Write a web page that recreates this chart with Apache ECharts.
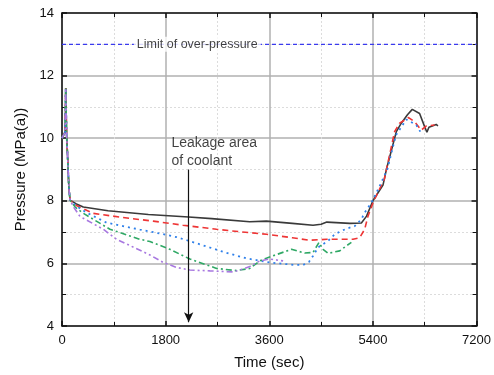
<!DOCTYPE html>
<html>
<head>
<meta charset="utf-8">
<script src="https://cdn.jsdelivr.net/npm/echarts@6/dist/echarts.min.js"></script>
<style>
  html, body { margin: 0; padding: 0; background: #fff; }
  #chart { width: 494px; height: 375px; }
</style>
</head>
<body>
<div id="chart"></div>
<script>
// Axis ranges and ticks
const xTicks = [0, 1800, 3600, 5400, 7200];
const yTicks = [4, 6, 8, 10, 12, 14];

// Shared start-up transient (time s, pressure MPa)
const startup = [[0, 10.0], [30, 10.05], [55, 10.2], [65, 11.6], [80, 10.1], [100, 9.3], [120, 8.4], [140, 8.02]];

// Pressure histories for each case
const caseBlack = [[250, 7.9], [370, 7.8], [800, 7.68], [1500, 7.56], [2200, 7.48], [2600, 7.43], [3260, 7.33], [3550, 7.35], [4000, 7.28], [4360, 7.22], [4500, 7.25], [4600, 7.32], [5000, 7.28], [5200, 7.29], [5290, 7.51], [5400, 8.0], [5575, 8.5], [5633, 8.99], [5807, 10.21], [5893, 10.48], [6000, 10.75], [6084, 10.92], [6211, 10.79], [6298, 10.37], [6338, 10.19], [6373, 10.35], [6500, 10.44], [6529, 10.39]];
const caseRed = [[250, 7.85], [543, 7.6], [1000, 7.48], [1584, 7.35], [2100, 7.22], [2684, 7.09], [3100, 7.01], [3551, 6.93], [4000, 6.82], [4303, 6.74], [4600, 6.77], [5055, 6.77], [5170, 6.82], [5257, 7.09], [5315, 7.51], [5402, 7.94], [5600, 8.7], [5777, 10.21], [5864, 10.48], [6020, 10.66], [6124, 10.53], [6240, 10.26], [6330, 10.39], [6472, 10.42]];
const caseBlue = [[250, 7.83], [428, 7.62], [775, 7.3], [1353, 7.08], [1527, 7.02], [1816, 6.91], [1990, 6.84], [2394, 6.61], [2799, 6.37], [3204, 6.16], [3609, 6.03], [4042, 5.95], [4187, 5.95], [4291, 6.05], [4360, 6.24], [4447, 6.51], [4621, 6.72], [4737, 6.93], [4939, 7.11], [5083, 7.19], [5200, 7.41], [5257, 7.62], [5373, 7.94], [5489, 8.36], [5650, 9.0], [5800, 10.1], [5980, 10.6], [6154, 10.42], [6223, 10.21]];
const caseGreen = [[230, 7.8], [370, 7.6], [833, 7.09], [1353, 6.77], [1527, 6.7], [1874, 6.45], [2221, 6.14], [2684, 5.84], [3031, 5.77], [3262, 5.84], [3435, 6.08], [3539, 6.16], [3985, 6.45], [4216, 6.33], [4360, 6.35], [4464, 6.67], [4534, 6.45], [4621, 6.32], [4823, 6.4], [4939, 6.56], [5026, 6.67]];
const casePurple = [[210, 7.78], [312, 7.5], [717, 7.09], [949, 6.77], [1527, 6.27], [1758, 6.03], [1990, 5.87], [2221, 5.79], [2568, 5.76], [2973, 5.73], [3146, 5.82], [3262, 5.9], [3435, 6.08], [3609, 6.14], [3840, 6.08]];

// Over-pressure limit
const limitPressure = 13;
const limitText = 'Limit of over-pressure';
const limitLabelTime = 2350;

// Leakage annotation
const leakText = 'Leakage area\nof coolant';
const leakTextAt = [1900, 10.12];
const leakArrow = [[2200, 9.0], [2200, 4.12]];

const FONT = '"Liberation Sans", Arial, sans-serif';
const chart = echarts.init(document.getElementById('chart'), null, { renderer: 'canvas' });

function line(name, pts, color, type, width) {
  return {
    name, type: 'line', showSymbol: false, symbol: 'none', z: 3,
    data: startup.concat(pts),
    lineStyle: { color, type, width, cap: 'butt' }
  };
}

const frame = { show: true, onZero: false, lineStyle: { color: '#111', width: 1.5 } };
const plain = v => String(v);

chart.setOption({
  animation: false,
  backgroundColor: '#fff',
  textStyle: { fontFamily: FONT },
  grid: { left: 62, right: 17, top: 13, bottom: 47 },
  xAxis: [
    {
      type: 'value', min: xTicks[0], max: xTicks[xTicks.length - 1], interval: 1800,
      position: 'bottom', axisLine: frame,
      axisTick: { show: true, inside: true, length: 5, lineStyle: { color: '#111', width: 1.5 } },
      minorTick: { show: true, splitNumber: 2, length: 4, lineStyle: { color: '#111', width: 1 } },
      splitLine: { show: true, lineStyle: { color: '#b0b0b0', width: 1.5 } },
      minorSplitLine: { show: true, lineStyle: { color: '#dcdcdc', width: 1, type: [2, 2] } },
      axisLabel: { color: '#111', fontSize: 13, margin: 8, fontFamily: FONT, formatter: plain },
      name: 'Time (sec)', nameLocation: 'middle', nameGap: 29,
      nameTextStyle: { color: '#111', fontSize: 15, fontFamily: FONT }
    },
    {
      type: 'value', min: xTicks[0], max: xTicks[xTicks.length - 1], interval: 1800,
      position: 'top', axisLine: frame,
      axisTick: { show: true, inside: true, length: 5, lineStyle: { color: '#111', width: 1.5 } },
      minorTick: { show: true, splitNumber: 2, length: 4, lineStyle: { color: '#111', width: 1 } },
      splitLine: { show: false }, axisLabel: { show: false }
    }
  ],
  yAxis: [
    {
      type: 'value', min: yTicks[0], max: yTicks[yTicks.length - 1], interval: 2,
      position: 'left', axisLine: frame,
      axisTick: { show: true, inside: true, length: 5, lineStyle: { color: '#111', width: 1.5 } },
      minorTick: { show: true, splitNumber: 2, length: 4, lineStyle: { color: '#111', width: 1 } },
      splitLine: { show: true, lineStyle: { color: '#b0b0b0', width: 1.5 } },
      minorSplitLine: { show: true, lineStyle: { color: '#dcdcdc', width: 1, type: [2, 2] } },
      axisLabel: { color: '#111', fontSize: 13, margin: 8, fontFamily: FONT, formatter: plain },
      name: 'Pressure (MPa(a))', nameLocation: 'middle', nameGap: 34, nameRotate: 90,
      nameTextStyle: { color: '#111', fontSize: 15, fontFamily: FONT }
    },
    {
      type: 'value', min: yTicks[0], max: yTicks[yTicks.length - 1], interval: 2,
      position: 'right', axisLine: frame,
      axisTick: { show: true, inside: true, length: 5, lineStyle: { color: '#111', width: 1.5 } },
      minorTick: { show: true, splitNumber: 2, length: 4, lineStyle: { color: '#111', width: 1 } },
      splitLine: { show: false }, axisLabel: { show: false }
    }
  ],
  series: [
    // Over-pressure limit line with its label
    {
      name: 'limit', type: 'line', symbol: 'none', z: 2,
      data: [[xTicks[0], limitPressure], [xTicks[xTicks.length - 1], limitPressure]],
      lineStyle: { color: '#3a3aee', width: 1.2, type: [4, 3] }
    },
    {
      name: 'limitLabel', type: 'scatter', symbolSize: 0, z: 4,
      data: [[limitLabelTime, limitPressure]],
      label: {
        show: true, position: 'inside', formatter: limitText,
        color: '#111', fontSize: 12.5, fontFamily: FONT,
        backgroundColor: '#fff', padding: [1, 3]
      }
    },
    line('Case A', caseBlack, '#3a3a3a', 'solid', 1.6),
    line('Case B', caseRed, '#ee3535', [6, 4], 1.6),
    line('Case C', caseBlue, '#2f80ea', [2, 4], 1.8),
    line('Case D', caseGreen, '#2fa865', [6, 3, 2, 3], 1.6),
    line('Case E', casePurple, '#a878e0', [6, 3, 2, 3, 2, 3], 1.6),
    // Leakage-area annotation and arrow
    {
      name: 'leak', type: 'scatter', symbolSize: 0, z: 5,
      data: [leakTextAt],
      label: {
        show: true, position: [0, 0], align: 'left', verticalAlign: 'top',
        formatter: leakText, color: '#111', fontSize: 14, lineHeight: 18, fontFamily: FONT
      },
      markLine: {
        silent: true, symbol: ['none', 'arrow'], symbolSize: [7, 10],
        label: { show: false },
        lineStyle: { color: '#111', width: 1.2, type: 'solid' },
        data: [[{ coord: leakArrow[0] }, { coord: leakArrow[1] }]]
      }
    }
  ]
});
</script>
</body>
</html>
